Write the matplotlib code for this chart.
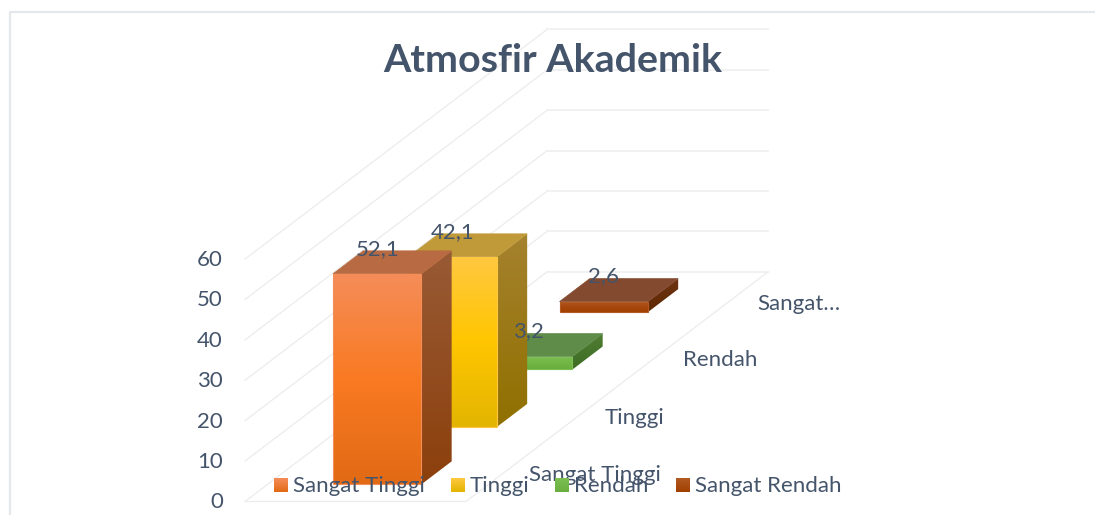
import numpy as np
import matplotlib
matplotlib.use('Agg')
import matplotlib.pyplot as plt
from matplotlib.colors import LinearSegmentedColormap
from matplotlib.patches import Polygon

# data
title = 'Atmosfir Akademik'
categories = ['Sangat Tinggi', 'Tinggi', 'Rendah', 'Sangat Rendah']
axis_labels = ['Sangat Tinggi', 'Tinggi', 'Rendah', 'Sangat…']
values = [52.1, 42.1, 3.2, 2.6]
y_ticks = [0, 10, 20, 30, 40, 50, 60]

# colours of each bar: front (top, middle, bottom), side (top, bottom), roof
front_colors = [('#F58D59', '#F97A22', '#E26A15'),
                ('#FFC840', '#FFC600', '#E3B500'),
                ('#7CC055', '#72B646', '#69AE3D'),
                ('#B25A22', '#A8480F', '#A04000')]
side_colors = [('#985A35', '#8C400C'),
               ('#A5822E', '#907000'),
               ('#4F7E33', '#3E6C25'),
               ('#6E3414', '#5E2800')]
top_colors = ['#B86A42', '#C09A38', '#5F8C48', '#834A30']
text_color = '#44546A'
grid_color = '#ECECEC'

# oblique projection of the chart box, in pixels
x0, y0 = 245, 501.5    # front left corner of the floor
floor_w = 221          # width of the floor
step_x, step_y = 75.5, -57.4   # shift for one category going back
unit = 4.04            # pixels for one unit on the value axis
bar_left, bar_right = 0.296, 0.696
bar_front, bar_back = 0.3, 0.7


def project(x, depth, v):
    return x0 + x * floor_w + depth * step_x, y0 + depth * step_y - v * unit


def gradient_face(ax, pts, colors, zorder):
    cmap = LinearSegmentedColormap.from_list('face', colors)
    xs = [p[0] for p in pts]
    ys = [p[1] for p in pts]
    im = ax.imshow(np.linspace(0, 1, 128).reshape(-1, 1), cmap=cmap, aspect='auto',
                   extent=(min(xs), max(xs), max(ys), min(ys)), origin='upper',
                   interpolation='bilinear', zorder=zorder)
    clip = Polygon(pts, closed=True, transform=ax.transData)
    im.set_clip_path(clip)


fig = plt.figure(figsize=(10.95, 5.15), dpi=100)
plt.rcParams['font.family'] = ['Lato', 'DejaVu Sans']
ax = fig.add_axes([0, 0, 1, 1])
ax.axis('off')

# outer frame of the chart
ax.plot([9.5, 9.5, 1095], [515, 12, 12], color='#E4E8ED', lw=1.6, zorder=1)

# walls and floor
n = len(categories)
for t in y_ticks:
    a = project(0, 0, t)
    b = project(0, n, t)
    c = project(1, n, t)
    ax.plot([a[0], b[0]], [a[1], b[1]], color=grid_color, lw=0.9, zorder=1)
    ax.plot([b[0], c[0]], [b[1], c[1]], color='#F0F0F0', lw=1.3, zorder=1)
    ax.text(a[0] - 22, a[1] + 1, str(t), ha='right', va='center', fontsize=16, color=text_color, zorder=6)
a = project(0, 0, 0)
b = project(1, 0, 0)
c = project(1, n, 0)
ax.plot([a[0], b[0], c[0]], [a[1], b[1], c[1]], color=grid_color, lw=0.9, zorder=1)

# bars, back one first
for i in range(n - 1, -1, -1):
    v = values[i]
    z = 2 + (n - i) * 0.1
    fl = project(bar_left, i + bar_front, 0)
    fr = project(bar_right, i + bar_front, 0)
    br = project(bar_right, i + bar_back, 0)
    tfl = project(bar_left, i + bar_front, v)
    tfr = project(bar_right, i + bar_front, v)
    tbr = project(bar_right, i + bar_back, v)
    tbl = project(bar_left, i + bar_back, v)
    gradient_face(ax, [tfr, tbr, br, fr], side_colors[i], z)
    ax.add_patch(Polygon([tfl, tfr, tbr, tbl], closed=True, facecolor=top_colors[i],
                         edgecolor=top_colors[i], lw=0.5, zorder=z))
    gradient_face(ax, [tfl, tfr, fr, fl], front_colors[i], z + 0.01)
    ax.add_patch(Polygon([tfl, tfr, fr, fl], closed=True, facecolor='none',
                         edgecolor=front_colors[i][0], lw=0.8, zorder=z + 0.02))

# value labels
for i, v in enumerate(values):
    px, py = project((bar_left + bar_right) / 2, i + bar_front, v)
    ax.text(px, py - 25, str(v).replace('.', ','), ha='center', va='center',
            fontsize=16, color=text_color, zorder=7)

# category labels along the right edge of the floor
label_right = [661, 664, 757, 840]
label_mid = [475, 418, 360, 304]
for label, lx, ly in zip(axis_labels, label_right, label_mid):
    ax.text(lx, ly, label, ha='right', va='center', fontsize=16, color=text_color, zorder=6)

# legend
legend_x = [274, 451, 555, 676]
for i, label in enumerate(categories):
    lx = legend_x[i]
    pts = [(lx, 478), (lx + 14, 478), (lx + 14, 492), (lx, 492)]
    gradient_face(ax, pts, [front_colors[i][0], front_colors[i][2]], 8)
    ax.text(lx + 19, 486.5, label, ha='left', va='center', fontsize=16, color=text_color, zorder=8)

ax.text(552.5, 61, title, ha='center', va='center', fontsize=28.4, fontweight='bold',
        color=text_color, zorder=9)

ax.set_xlim(0, 1095)
ax.set_ylim(515, 0)
fig.savefig('out.png', dpi=100, facecolor='white')
